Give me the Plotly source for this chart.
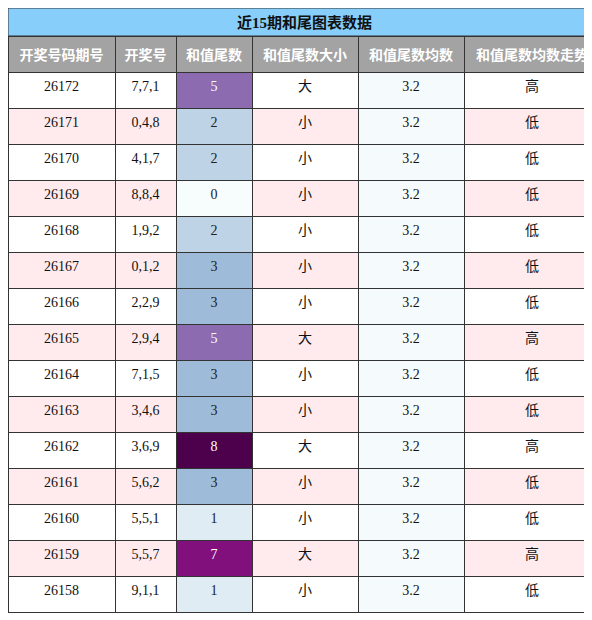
import plotly.graph_objects as go

# 数据
periods = ['26172', '26171', '26170', '26169', '26168', '26167', '26166', '26165',
           '26164', '26163', '26162', '26161', '26160', '26159', '26158']
draws = ['7,7,1', '0,4,8', '4,1,7', '8,8,4', '1,9,2', '0,1,2', '2,2,9', '2,9,4',
         '7,1,5', '3,4,6', '3,6,9', '5,6,2', '5,5,1', '5,5,7', '9,1,1']
tail_sums = [5, 2, 2, 0, 2, 3, 3, 5, 3, 3, 8, 3, 1, 7, 1]
tail_size = ['大', '小', '小', '小', '小', '小', '小', '大', '小', '小', '大', '小', '小', '大', '小']
tail_mean = [3.2] * 15
trend = ['高', '低', '低', '低', '低', '低', '低', '高', '低', '低', '高', '低', '低', '高', '低']
headers = ['开奖号码期号', '开奖号', '和值尾数', '和值尾数大小', '和值尾数均数', '和值尾数均数走势']

bupu = {0: '#f7fcfd', 1: '#e0ecf4', 2: '#bfd3e6', 3: '#9ebcda', 4: '#8c96c6',
        5: '#8c6bb1', 6: '#88419d', 7: '#810f7c', 8: '#4d004b', 9: '#4d004b'}
row_bg = ['#ffffff' if i % 2 == 0 else '#ffebee' for i in range(len(periods))]
sum_bg = [bupu[v] for v in tail_sums]
sum_font = ['#ffffff' if v >= 5 else '#222222' for v in tail_sums]
mean_bg = ['#f5fbfc'] * len(periods)

fig = go.Figure(go.Table(
    columnwidth=[107, 61, 76, 106, 106, 136],
    domain=dict(x=[0, 1], y=[0, 1 - 28 / 620]),
    header=dict(
        values=[f'<b>{h}</b>' for h in headers],
        fill_color='#a3a3a3',
        line_color='#333333',
        font=dict(color='white', size=14, family='Noto Sans CJK SC'),
        align='center', height=36
    ),
    cells=dict(
        values=[periods, draws, tail_sums, tail_size, tail_mean, trend],
        fill_color=[row_bg, row_bg, sum_bg, row_bg, mean_bg, row_bg],
        line_color='#333333',
        font=dict(color=['#111111', '#111111', sum_font, '#111111', '#111111', '#111111'],
                  size=14, family='Liberation Serif, Noto Sans CJK SC'),
        align='center', height=36
    )
))

fig.add_shape(type='rect', xref='paper', yref='paper', x0=0, x1=1, y0=1 - 28 / 620, y1=1,
              fillcolor='#87cefa', line=dict(color='#333333', width=1))
fig.add_annotation(text='<b>近15期和尾图表数据</b>', xref='paper', yref='paper',
                   x=0.5, y=1 - 14 / 620, yanchor='middle', showarrow=False,
                   font=dict(size=15, color='#111111', family='Liberation Serif, Noto Sans CJK SC'))

fig.update_layout(width=592, height=620, margin=dict(l=0, r=0, t=0, b=0),
                  paper_bgcolor='white')

fig.write_html('out.html')
